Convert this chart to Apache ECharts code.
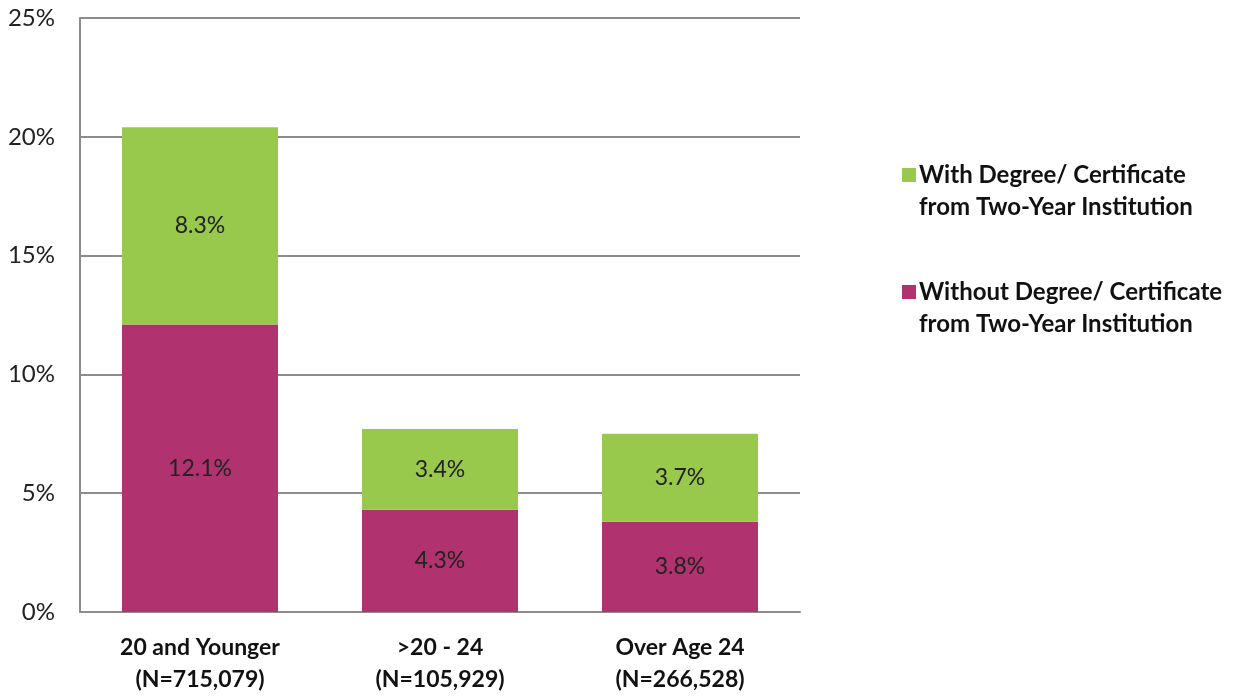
<!DOCTYPE html>
<html><head><meta charset="utf-8">
<script src="https://cdn.jsdelivr.net/npm/echarts@6/dist/echarts.min.js"></script>
<style>html,body{margin:0;padding:0;background:#fff}#c{width:1233px;height:696px}</style>
</head><body><div id="c"></div>
<script>
const categories = ['20 and Younger\n(N=715,079)', '>20 - 24\n(N=105,929)', 'Over Age 24\n(N=266,528)'];
const withoutDegree = [12.1, 4.3, 3.8];
const withDegree = [8.3, 3.4, 3.7];
const yTicks = [0, 5, 10, 15, 20, 25];
const seriesNames = ['With Degree/ Certificate\nfrom Two-Year Institution', 'Without Degree/ Certificate\nfrom Two-Year Institution'];

const font = 'Lato, "Open Sans", sans-serif';
const chart = echarts.init(document.getElementById('c'));
const labelStyle = {show: true, position: 'inside', color: '#222', fontSize: 23, fontFamily: font,
  formatter: p => p.value.toFixed(1) + '%'};
chart.setOption({
  animation: false,
  grid: {left: 80, right: 433, top: 18, bottom: 83},
  legend: {
    orient: 'vertical', left: 902, top: 127, padding: 0, itemWidth: 14, itemHeight: 14, itemGap: 21,
    icon: 'rect',
    data: [seriesNames[0], seriesNames[1]],
    formatter: name => ' \n' + name,
    textStyle: {fontSize: 24, fontWeight: 'bold', color: '#111', fontFamily: font, lineHeight: 32, padding: [0, 0, 0, -2]}
  },
  xAxis: {
    type: 'category', data: categories,
    axisLine: {show: true, lineStyle: {color: '#8c8c8c', width: 2}},
    axisTick: {show: false},
    axisLabel: {fontSize: 23, fontWeight: 'bold', color: '#111', fontFamily: font, lineHeight: 32, margin: 20}
  },
  yAxis: {
    type: 'value', min: yTicks[0], max: yTicks[yTicks.length - 1], interval: 5,
    axisLine: {show: true, lineStyle: {color: '#8c8c8c', width: 2}},
    axisTick: {show: false},
    splitLine: {lineStyle: {color: '#8c8c8c', width: 2}},
    axisLabel: {fontSize: 24, color: '#222', fontFamily: font, margin: 25, formatter: v => v + '%'}
  },
  series: [
    {name: seriesNames[1], type: 'bar', stack: 's', data: withoutDegree, barWidth: '65%',
      itemStyle: {color: '#b0336f'}, label: labelStyle},
    {name: seriesNames[0], type: 'bar', stack: 's', data: withDegree, barWidth: '65%',
      itemStyle: {color: '#99c94c'}, label: labelStyle}
  ]
});
</script></body></html>
